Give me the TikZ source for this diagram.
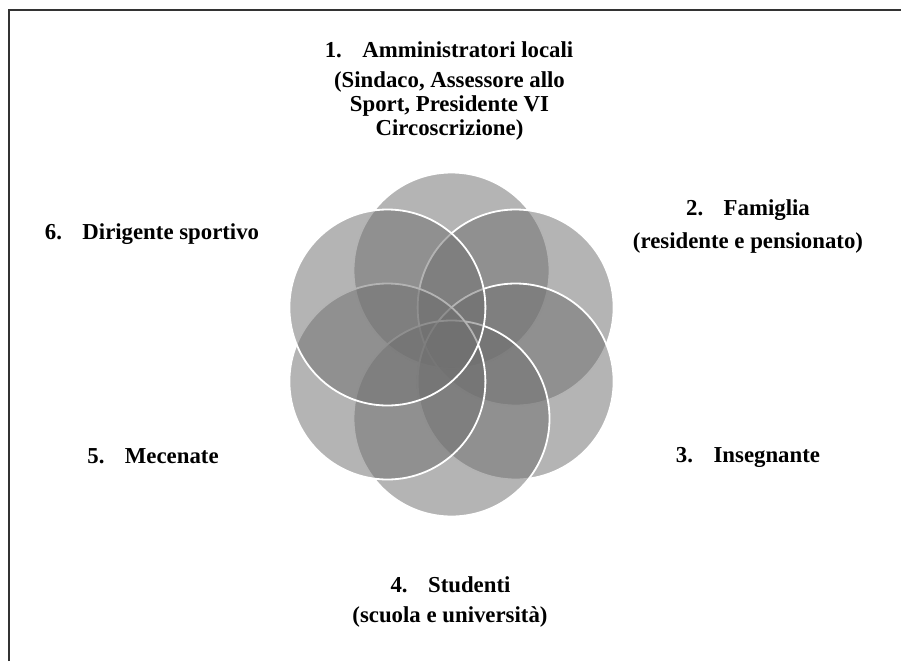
\documentclass[tikz,border=0pt]{standalone}
\usepackage{fontspec}
\setmainfont{Liberation Serif}
\usetikzlibrary{calc}
\begin{document}
\begin{tikzpicture}[x=1pt,y=-1pt,
  petal/.style={circle,minimum size=196pt,inner sep=0pt,draw=white,line width=1.8pt,fill=petalgray,fill opacity=0.52},
  lbl/.style={inner sep=0pt,font=\bfseries\fontsize{22.8}{23.8}\selectfont,align=center},
  frameline/.style={draw=black!80,line width=2pt}]
\definecolor{petalgray}{gray}{0.435}
\useasboundingbox (0,0) rectangle (901,661);
\coordinate (fa) at (8.5,661);
\coordinate (fb) at (8.5,10);
\coordinate (fc) at (901,10);
\draw[frameline] (fa) -- (fb) -- (fc);
\coordinate (ctr) at (451.5,344.5);
\node[petal] (c1) at ($(ctr)+(0,-74)$) {};
\node[petal] (c2) at ($(ctr)+(64.1,-37)$) {};
\node[petal] (c3) at ($(ctr)+(64.1,37)$) {};
\node[petal] (c4) at ($(ctr)+(0,74)$) {};
\node[petal] (c5) at ($(ctr)+(-64.1,37)$) {};
\node[petal] (c6) at ($(ctr)+(-64.1,-37)$) {};
\node[lbl] (t1a) at (449,50) {1.\hspace{0.9em}Amministratori locali};
\node[lbl] (t1b) at (449.5,106) {(Sindaco, Assessore allo\\Sport, Presidente VI\\Circoscrizione)};
\node[lbl] (t2a) at (748,210) {2.\hspace{0.9em}Famiglia};
\node[lbl] (t2b) at (748,243) {(residente e pensionato)};
\node[lbl] (t3) at (748,457) {3.\hspace{0.9em}Insegnante};
\node[lbl] (t4a) at (450.5,585) {4.\hspace{0.9em}Studenti};
\node[lbl] (t4b) at (450,617) {(scuola e università)};
\node[lbl] (t5) at (153,456) {5.\hspace{0.9em}Mecenate};
\node[lbl] (t6) at (152,234) {6.\hspace{0.9em}Dirigente sportivo};
\end{tikzpicture}
\end{document}
